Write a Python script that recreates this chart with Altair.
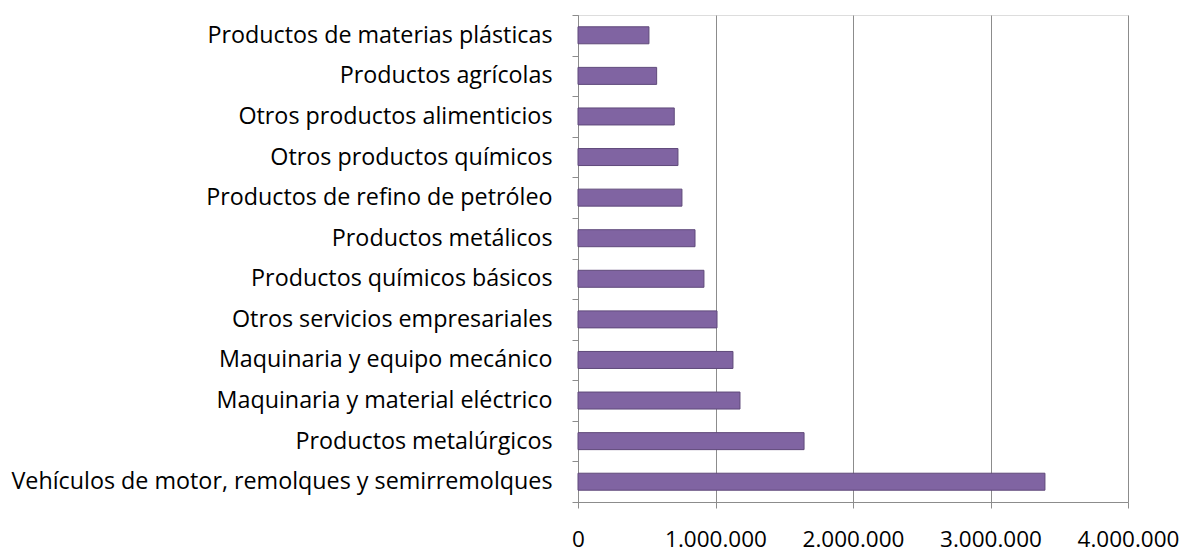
import altair as alt
import pandas as pd

categorias = [
    "Productos de materias plásticas",
    "Productos agrícolas",
    "Otros productos alimenticios",
    "Otros productos químicos",
    "Productos de refino de petróleo",
    "Productos metálicos",
    "Productos químicos básicos",
    "Otros servicios empresariales",
    "Maquinaria y equipo mecánico",
    "Maquinaria y material eléctrico",
    "Productos metalúrgicos",
    "Vehículos de motor, remolques y semirremolques",
]
valores = [516000, 572000, 700000, 727000, 756000, 851000, 916000,
           1011000, 1127000, 1178000, 1644000, 3396000]
ticks_x = [0, 1000000, 2000000, 3000000, 4000000]

df = pd.DataFrame({"categoria": categorias, "valor": valores})

FONT = "Open Sans"

chart = alt.Chart(df).mark_bar(
    color="#8064A2", stroke="#5F497A", strokeWidth=1, size=17
).encode(
    x=alt.X("valor:Q",
            scale=alt.Scale(domain=[0, 4000000], nice=False),
            axis=alt.Axis(values=ticks_x, title=None,
                          labelExpr="replace(format(datum.value, ',d'), /,/g, '.')",
                          labelOverlap=False, labelFlush=False,
                          grid=True, gridColor="#8C8C8C", gridWidth=1,
                          domainColor="#8C8C8C", tickColor="#8C8C8C",
                          tickSize=6, labelPadding=20,
                          labelFont=FONT, labelFontSize=22.5, labelColor="#000000")),
    y=alt.Y("categoria:N", sort=categorias,
            scale=alt.Scale(paddingInner=0, paddingOuter=0),
            axis=alt.Axis(title=None, tickBand="extent", grid=False,
                          labelOverlap=False,
                          domainColor="#8C8C8C", tickColor="#8C8C8C",
                          tickSize=6, labelPadding=20, labelLimit=700,
                          labelFont=FONT, labelFontSize=23.3, labelColor="#000000")),
).properties(
    width=550, height=487,
    autosize=alt.AutoSizeParams(type="none"),
    padding={"left": 570, "top": 7, "right": 51, "bottom": 52},
).configure_view(
    fill="#ECEAF0", stroke=None
).configure(background="#FFFFFF")

chart.save("out.html", embed_options={"renderer": "svg", "actions": False})
